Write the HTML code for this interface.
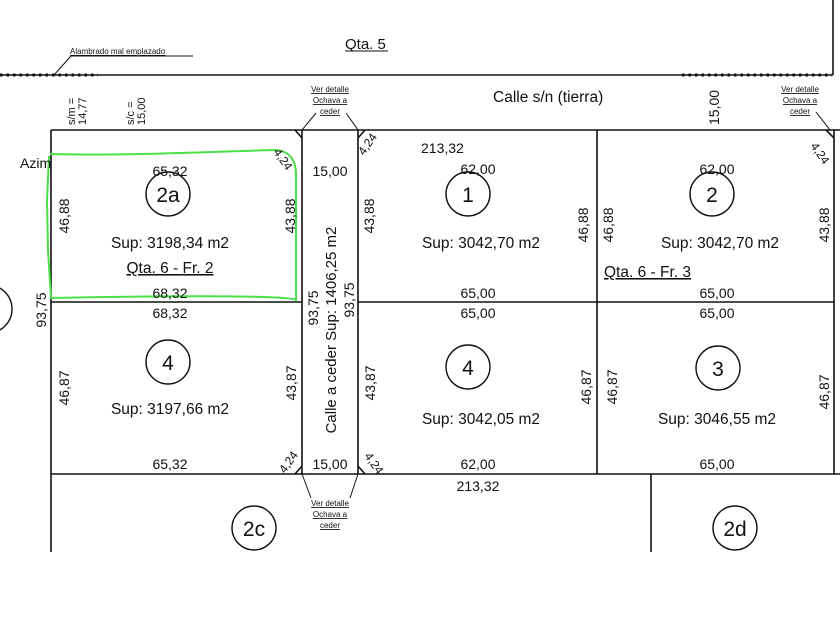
<!DOCTYPE html>
<html><head><meta charset="utf-8"><style>
html,body{margin:0;padding:0;background:#fff;}
svg{display:block;}
text{font-family:"Liberation Sans",Arial,sans-serif;fill:#111;}
.n{font-size:14px;}
.sup{font-size:15.5px;}
.s{font-size:8px;text-decoration:underline;}
</style></head><body>
<svg width="840" height="630" viewBox="0 0 840 630">
<rect width="840" height="630" fill="#fff"/>
<g stroke="#111" stroke-width="1.6" fill="none">
<line x1="0" y1="75" x2="833" y2="75"/>
<line x1="833" y1="0" x2="833" y2="75"/>
<line x1="51" y1="130" x2="840" y2="130"/>
<line x1="51" y1="130" x2="51" y2="552"/>
<line x1="51" y1="302" x2="302" y2="302"/>
<line x1="358" y1="302" x2="834" y2="302"/>
<line x1="51" y1="474" x2="840" y2="474"/>
<line x1="302" y1="130" x2="302" y2="474"/>
<line x1="358" y1="130" x2="358" y2="474"/>
<line x1="597" y1="130" x2="597" y2="474"/>
<line x1="834" y1="130" x2="834" y2="474"/>
<line x1="651" y1="474" x2="651" y2="552"/>
<line x1="295" y1="130" x2="302" y2="138"/>
<line x1="365" y1="130" x2="358" y2="138"/>
<line x1="295" y1="474" x2="302" y2="466"/>
<line x1="365" y1="474" x2="358" y2="466"/>
<line x1="826" y1="130" x2="834" y2="138"/>
</g>
<line x1="0" y1="75" x2="98" y2="75" stroke="#111" stroke-width="3" stroke-dasharray="2.5 4"/>
<line x1="682" y1="75" x2="832" y2="75" stroke="#111" stroke-width="3" stroke-dasharray="2.5 4"/>
<g stroke="#111" stroke-width="1" fill="none">
<line x1="54" y1="75" x2="71" y2="56"/><line x1="71" y1="56" x2="193" y2="56"/>
<line x1="302" y1="130" x2="316" y2="113"/><line x1="358" y1="130" x2="346" y2="113"/>
<line x1="302" y1="474" x2="311" y2="498"/><line x1="358" y1="474" x2="350" y2="498"/>
<line x1="830" y1="130" x2="816" y2="112"/>
<line x1="345" y1="51" x2="388" y2="51"/>
</g>
<path d="M50,154 C120,156 200,152 275,150 C290,151 296,160 296,175 L296,300 C290,296 200,295 51,298 L48,250 L47,200 L49,156" stroke="#4ce04a" stroke-width="2" fill="none"/>
<text x="70" y="54" class="s" style="font-size:8px">Alambrado mal emplazado</text>
<text x="345" y="49" style="font-size:15px">Qta. 5</text>
<text x="493" y="102" class="sup">Calle s/n (tierra)</text>
<text x="421" y="153" class="n">213,32</text>
<text x="20" y="168" class="n">Azim</text>
<g class="s" text-anchor="middle">
<text x="330" y="92">Ver detalle</text><text x="330" y="103">Ochava a</text><text x="330" y="114">ceder</text>
<text x="800" y="92">Ver detalle</text><text x="800" y="103">Ochava a</text><text x="800" y="114">ceder</text>
<text x="330" y="506">Ver detalle</text><text x="330" y="517">Ochava a</text><text x="330" y="528">ceder</text>
</g>
<text transform="translate(75,125) rotate(-90)" style="font-size:11px">s/m =</text>
<text transform="translate(86,125) rotate(-90)" style="font-size:11px">14,77</text>
<text transform="translate(134,125) rotate(-90)" style="font-size:11px">s/c =</text>
<text transform="translate(145,125) rotate(-90)" style="font-size:11px">15,00</text>
<text transform="translate(719,125) rotate(-90)" class="n">15,00</text>
<g class="n" text-anchor="middle">
<text x="170" y="176">65,32</text>
<text x="330" y="176">15,00</text>
<text x="478" y="174">62,00</text>
<text x="717" y="174">62,00</text>
<text x="170" y="298">68,32</text>
<text x="170" y="318">68,32</text>
<text x="478" y="298">65,00</text>
<text x="478" y="318">65,00</text>
<text x="717" y="298">65,00</text>
<text x="717" y="318">65,00</text>
<text x="170" y="469">65,32</text>
<text x="330" y="469">15,00</text>
<text x="478" y="469">62,00</text>
<text x="717" y="469">65,00</text>
<text x="478" y="491">213,32</text>
</g>
<g class="sup" text-anchor="middle">
<text x="170" y="248">Sup: 3198,34 m2</text>
<text x="481" y="248">Sup: 3042,70 m2</text>
<text x="720" y="248">Sup: 3042,70 m2</text>
<text x="170" y="414">Sup: 3197,66 m2</text>
<text x="481" y="424">Sup: 3042,05 m2</text>
<text x="717" y="424">Sup: 3046,55 m2</text>
<text x="170" y="273" text-decoration="underline">Qta. 6 - Fr. 2</text>
</g>
<text x="604" y="277" class="sup" text-decoration="underline">Qta. 6 - Fr. 3</text>
<g class="n" text-anchor="middle">
<text transform="translate(69,216) rotate(-90)">46,88</text>
<text transform="translate(295,216) rotate(-90)">43,88</text>
<text transform="translate(374,216) rotate(-90)">43,88</text>
<text transform="translate(588,225) rotate(-90)">46,88</text>
<text transform="translate(613,225) rotate(-90)">46,88</text>
<text transform="translate(829,225) rotate(-90)">43,88</text>
<text transform="translate(46,310) rotate(-90)">93,75</text>
<text transform="translate(318,308) rotate(-90)">93,75</text>
<text transform="translate(354,300) rotate(-90)">93,75</text>
<text transform="translate(336,330) rotate(-90)" style="font-size:15px">Calle a ceder Sup: 1406,25 m2</text>
<text transform="translate(69,388) rotate(-90)">46,87</text>
<text transform="translate(296,383) rotate(-90)">43,87</text>
<text transform="translate(375,383) rotate(-90)">43,87</text>
<text transform="translate(591,387) rotate(-90)">46,87</text>
<text transform="translate(617,387) rotate(-90)">46,87</text>
<text transform="translate(829,392) rotate(-90)">46,87</text>
</g>
<g style="font-size:12px">
<text transform="translate(273,152) rotate(55)">4,24</text>
<text transform="translate(364,156) rotate(-55)">4,24</text>
<text transform="translate(810,146) rotate(55)">4,24</text>
<text transform="translate(285,474) rotate(-55)">4,24</text>
<text transform="translate(364,456) rotate(55)">4,24</text>
</g>
<g stroke="#111" stroke-width="1.4" fill="none">
<circle cx="168" cy="194" r="22"/><circle cx="468" cy="194" r="22"/><circle cx="712" cy="194" r="22"/>
<circle cx="168" cy="362" r="22"/><circle cx="468" cy="367" r="22"/><circle cx="718" cy="368" r="22"/>
<circle cx="254" cy="528" r="22"/><circle cx="735" cy="528" r="22"/>
<circle cx="-12" cy="309" r="24"/>
</g>
<g style="font-size:21px" text-anchor="middle">
<text x="168" y="202">2a</text><text x="468" y="202">1</text><text x="712" y="202">2</text>
<text x="168" y="370">4</text><text x="468" y="375">4</text><text x="718" y="376">3</text>
<text x="254" y="536">2c</text><text x="735" y="536">2d</text>
</g>
</svg>
</body></html>
